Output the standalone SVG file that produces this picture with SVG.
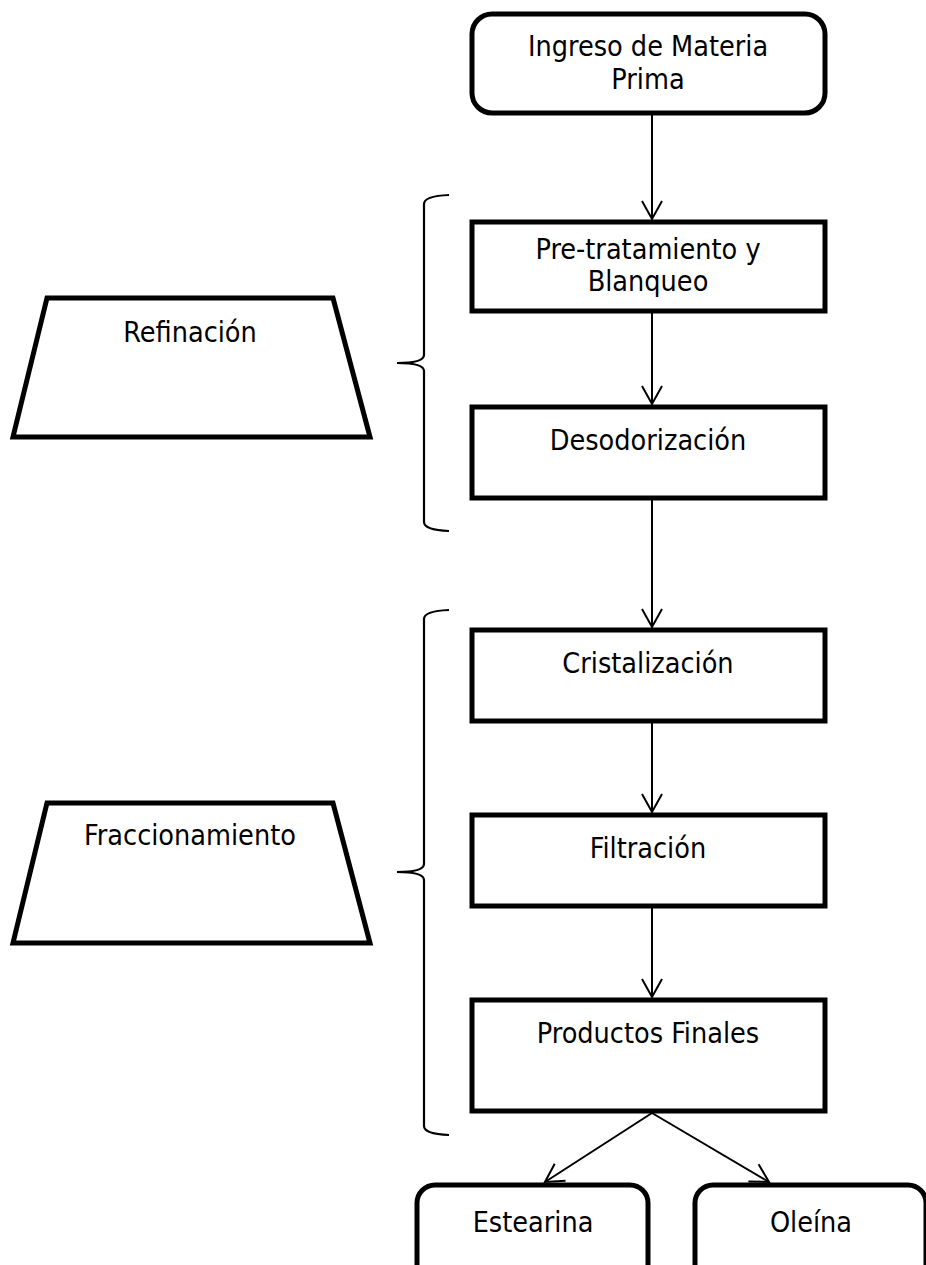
<svg xmlns="http://www.w3.org/2000/svg" width="926" height="1265" viewBox="0 0 926 1265">
<defs>
<marker id="arr" markerUnits="userSpaceOnUse" markerWidth="24" markerHeight="24" viewBox="-20 -12 24 24" refX="0" refY="0" orient="auto">
<path d="M-18,-10 L0,0 L-18,10" fill="none" stroke="#000" stroke-width="2"/>
</marker>
</defs>
<style>
.box{fill:#fff;stroke:#000;stroke-width:5}
.trap{fill:#fff;stroke:#000;stroke-width:5;stroke-linejoin:miter}
.brace{fill:none;stroke:#000;stroke-width:2.2}
.t{font-family:"DejaVu Sans Condensed","DejaVu Sans",sans-serif;font-stretch:condensed;font-size:28.5px;fill:#000;text-anchor:middle}
.conn line{stroke:#000;stroke-width:2;marker-end:url(#arr)}
</style>
<rect width="926" height="1265" fill="#fff"/>

<g id="ingreso">
<rect class="box" x="472" y="14" width="353" height="99" rx="20"/>
<text class="t" x="648" y="56">Ingreso de Materia</text>
<text class="t" x="648" y="89">Prima</text>
</g>
<g id="pretratamiento">
<rect class="box" x="472" y="222" width="353" height="89"/>
<text class="t" x="648" y="259">Pre-tratamiento y</text>
<text class="t" x="648" y="291">Blanqueo</text>
</g>
<g id="desodorizacion">
<rect class="box" x="472" y="407" width="353" height="91"/>
<text class="t" x="648" y="450">Desodorización</text>
</g>
<g id="cristalizacion">
<rect class="box" x="472" y="630" width="353" height="91"/>
<text class="t" x="648" y="673">Cristalización</text>
</g>
<g id="filtracion">
<rect class="box" x="472" y="815" width="353" height="91"/>
<text class="t" x="648" y="858">Filtración</text>
</g>
<g id="productos">
<rect class="box" x="472" y="1000" width="353" height="111"/>
<text class="t" x="648" y="1043">Productos Finales</text>
</g>
<g id="estearina">
<rect class="box" x="417" y="1185" width="231" height="110" rx="18"/>
<text class="t" x="533" y="1232">Estearina</text>
</g>
<g id="oleina">
<rect class="box" x="695" y="1185" width="231" height="110" rx="18"/>
<text class="t" x="811" y="1232">Oleína</text>
</g>
<g id="refinacion">
<polygon class="trap" points="47,298 333,298 370,437 13,437"/>
<text class="t" x="190" y="342">Refinación</text>
</g>
<g id="fraccionamiento">
<polygon class="trap" points="47,803 333,803 370,943 13,943"/>
<text class="t" x="190" y="845">Fraccionamiento</text>
</g>
<g id="braces">
<path class="brace" d="M449,195 Q424,196 424,204 L424,355 Q424,363 397,363 Q424,363 424,371 L424,522 Q424,530 449,531"/>
<path class="brace" d="M449,610 Q424,611 424,619 L424,864 Q424,872 397,872 Q424,872 424,880 L424,1126 Q424,1134 449,1135"/>
</g>
<g class="conn" id="connectors">
<line x1="652" y1="115" x2="652" y2="219"/>
<line x1="652" y1="313" x2="652" y2="404"/>
<line x1="652" y1="500" x2="652" y2="627"/>
<line x1="652" y1="723" x2="652" y2="812"/>
<line x1="652" y1="908" x2="652" y2="997"/>
<line x1="652" y1="1113" x2="545" y2="1182"/>
<line x1="652" y1="1113" x2="769" y2="1182"/>
</g>
</svg>
